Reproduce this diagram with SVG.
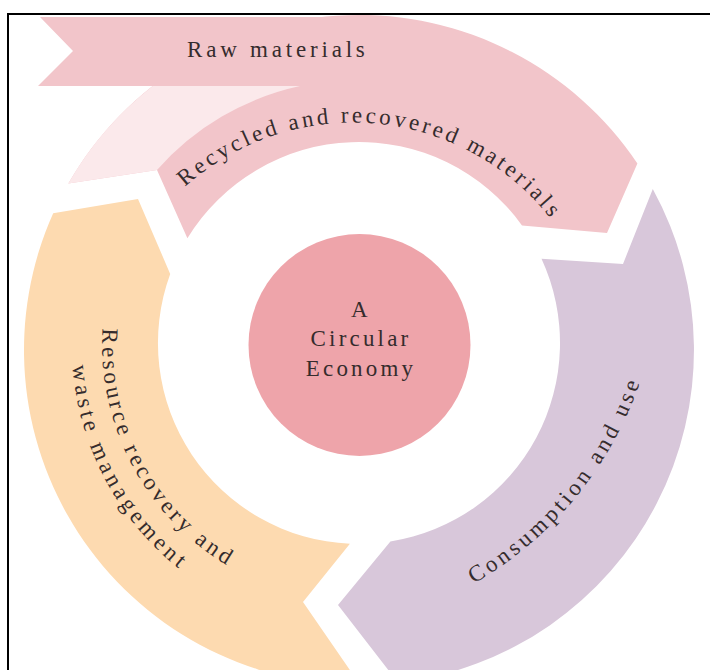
<svg xmlns="http://www.w3.org/2000/svg" width="710" height="670" viewBox="0 0 710 670">
<defs>
<style>
.t{font-family:"Liberation Serif","Times New Roman",serif;font-size:23px;fill:#352c2d;letter-spacing:3.4px}
.pink{fill:#f2c5ca}
.fade{fill:#fbe9eb}
.orange{fill:#fddab0}
.purple{fill:#d8c7da}
.core{fill:#eea4aa}
</style>
<path id="pRecycled" d="M110.3,308.1 A251.5,251.5 0 0 1 603.6,353"/>
<path id="pRes1" d="M200.8,142.5 A257,257 0 0 0 438.4,589.4"/>
<path id="pRes2" d="M182.3,118.8 A287,287 0 0 0 447.7,618"/>
<path id="pCons" d="M229,628.1 A371,371 0 0 0 636,130.9"/>
</defs>
<rect x="0" y="0" width="710" height="670" fill="#ffffff"/>
<rect x="8" y="14" width="760" height="720" fill="none" stroke="#000" stroke-width="2"/>
<g id="node-recycled">
<path class="pink" d="M68.3,183.5 A335,335 0 0 1 637.4,163.6 L607,233 L522,225.4 A201,201 0 0 0 187.4,238.3 L157,170 Z"/>
<path class="fade" d="M68.3,183.5 L157,170 A266,266 0 0 1 300,86 L152.8,86 A335,335 0 0 0 68.3,183.5 Z"/>
<text class="t" style="letter-spacing:3.2px"><textPath href="#pRecycled" startOffset="50%" text-anchor="middle">Recycled and recovered materials</textPath></text>
</g>
<g id="node-raw">
<path class="pink" d="M40,17 L395,17 L395,86 L38,86 L73,51 Z"/>
<text class="t" x="187" y="57" style="letter-spacing:3.8px">Raw materials</text>
</g>
<g id="node-consumption">
<path class="purple" d="M652.8,189.1 A335,335 0 0 1 398.1,682.7 L338,605 L390.4,541.5 A201,201 0 0 0 541.5,258.7 L623,264 Z"/>
<text class="t" style="letter-spacing:3.7px"><textPath href="#pCons" startOffset="50%" text-anchor="middle">Consumption and use</textPath></text>
</g>
<g id="node-resource">
<path class="orange" d="M349.9,543.8 L303,602 L360.2,685 A335,335 0 0 1 53.2,213.2 L138,199 L170.2,273.9 A201,201 0 0 0 349.9,543.8 Z"/>
<text class="t" style="letter-spacing:3.5px"><textPath href="#pRes1" startOffset="50%" text-anchor="middle">Resource recovery and</textPath></text>
<text class="t" style="letter-spacing:4px"><textPath href="#pRes2" startOffset="50%" text-anchor="middle">waste management</textPath></text>
</g>
<g id="node-center">
<circle class="core" cx="359.5" cy="345" r="111"/>
<text class="t" x="361" y="317" text-anchor="middle" style="letter-spacing:3.2px">A</text>
<text class="t" x="361" y="346" text-anchor="middle" style="letter-spacing:3.2px">Circular</text>
<text class="t" x="361" y="376" text-anchor="middle" style="letter-spacing:3.2px">Economy</text>
</g>
<g id="connectors"></g>
</svg>
